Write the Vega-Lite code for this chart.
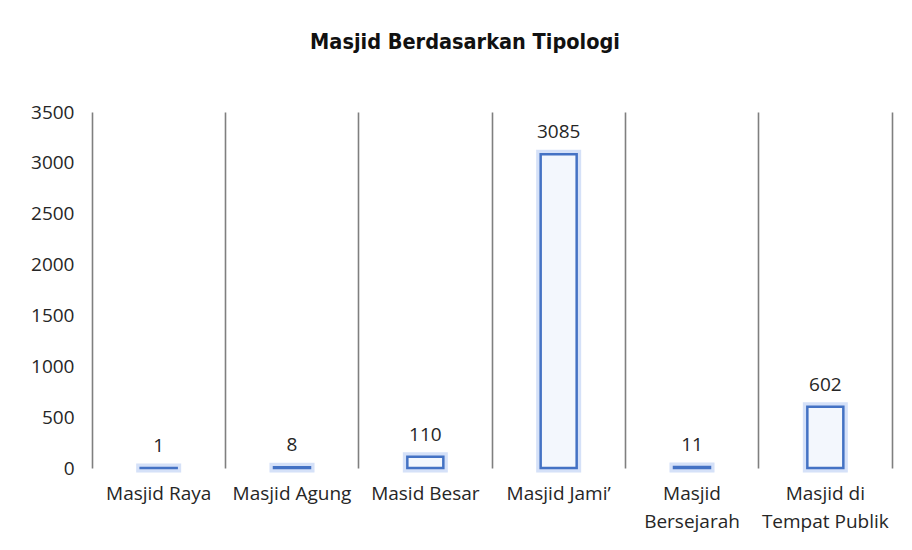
{
  "$schema": "https://vega.github.io/schema/vega-lite/v6.json",
  "width": 800,
  "height": 356,
  "autosize": "none",
  "padding": {"left": 92, "top": 112, "right": 20, "bottom": 82},
  "background": "white",
  "title": {
    "text": "Masjid Berdasarkan Tipologi",
    "font": "DejaVu Sans Condensed",
    "fontSize": 21.5,
    "fontWeight": "bold",
    "color": "#111111",
    "anchor": "middle",
    "frame": "group",
    "baseline": "alphabetic",
    "dx": -27,
    "offset": 33
  },
  "config": {
    "view": {"stroke": null},
    "font": "Open Sans"
  },
  "data": {
    "values": [
      {"tipologi": "Masjid Raya", "jumlah": 1},
      {"tipologi": "Masjid Agung", "jumlah": 8},
      {"tipologi": "Masid Besar", "jumlah": 110},
      {"tipologi": "Masjid Jami’", "jumlah": 3085},
      {"tipologi": "Masjid Bersejarah", "jumlah": 11},
      {"tipologi": "Masjid di Tempat Publik", "jumlah": 602}
    ]
  },
  "encoding": {
    "x": {
      "field": "tipologi",
      "type": "nominal",
      "sort": null,
      "scale": {"paddingInner": 0, "paddingOuter": 0},
      "axis": {
        "title": null,
        "labelAngle": 0,
        "labelFont": "Open Sans",
        "labelFontSize": 19,
        "labelColor": "#262626",
        "labelPadding": 16,
        "labelBaseline": "top",
        "labelLineHeight": 28,
        "labelExpr": "datum.value == 'Masjid Bersejarah' ? ['Masjid', 'Bersejarah'] : datum.value == 'Masjid di Tempat Publik' ? ['Masjid di', 'Tempat Publik'] : datum.value",
        "ticks": false,
        "domain": false,
        "grid": true,
        "bandPosition": 0,
        "gridColor": "#7f7f7f",
        "gridWidth": 1.6
      }
    }
  },
  "layer": [
    {
      "mark": {"type": "bar", "width": {"band": 0.27}, "fill": "transparent", "stroke": "#b9cdf3", "strokeWidth": 9, "strokeOpacity": 0.6},
      "encoding": {
        "y": {
          "field": "jumlah",
          "type": "quantitative",
          "scale": {"domain": [0, 3500], "nice": false},
          "axis": {
            "orient": "left",
            "title": null,
            "values": [0, 500, 1000, 1500, 2000, 2500, 3000, 3500],
            "format": "d",
            "labelFont": "Open Sans",
            "labelFontSize": 19,
            "labelColor": "#262626",
            "labelPadding": 18,
            "ticks": false,
            "domain": false,
            "grid": false
          }
        }
      }
    },
    {
      "mark": {"type": "bar", "width": {"band": 0.27}, "fill": "#f3f7fd", "stroke": "#4472c4", "strokeWidth": 2.5},
      "encoding": {
        "y": {"field": "jumlah", "type": "quantitative", "axis": null}
      }
    },
    {
      "mark": {"type": "text", "baseline": "alphabetic", "dy": -16, "font": "Open Sans", "fontSize": 19, "color": "#262626"},
      "encoding": {
        "text": {"field": "jumlah", "type": "quantitative"},
        "y": {
          "field": "jumlah",
          "type": "quantitative",
          "axis": {
            "orient": "right",
            "title": null,
            "labels": false,
            "ticks": false,
            "grid": false,
            "domain": true,
            "domainColor": "#7f7f7f",
            "domainWidth": 1.6
          }
        }
      }
    }
  ],
  "resolve": {"axis": {"y": "independent"}}
}
